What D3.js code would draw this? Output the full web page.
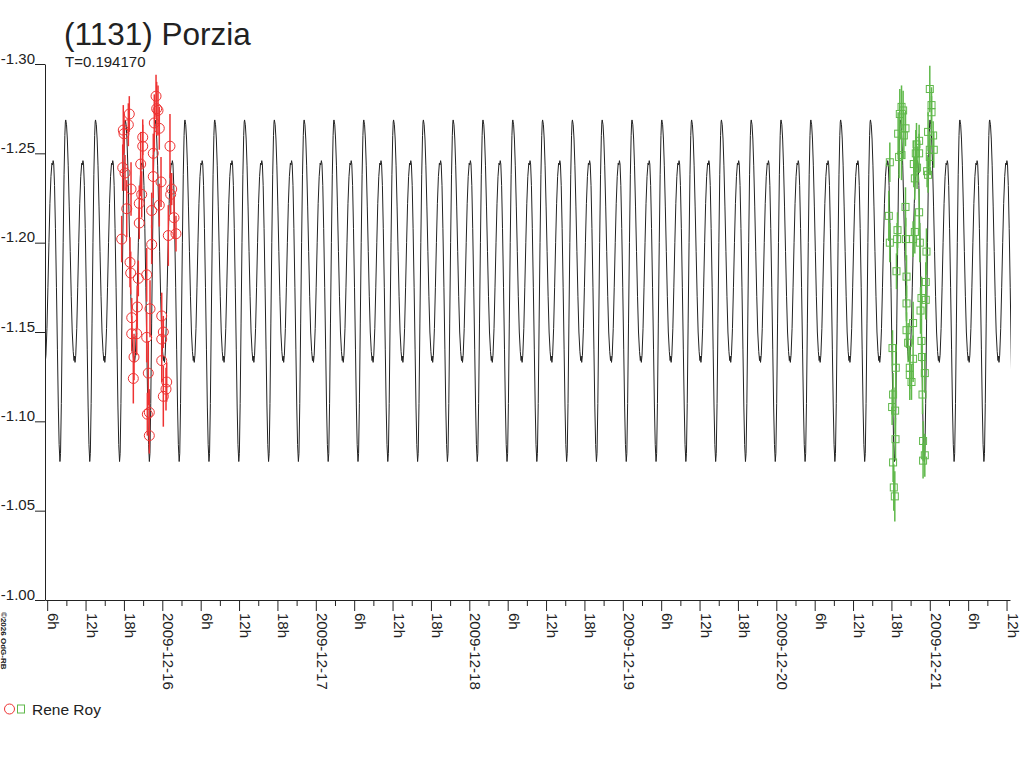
<!DOCTYPE html>
<html><head><meta charset="utf-8">
<script src="https://cdn.jsdelivr.net/npm/d3@7"></script>
<style>html,body{margin:0;padding:0;background:#fff;} svg{display:block;font-family:"Liberation Sans",Arial,sans-serif;}</style>
</head><body><svg id="c" width="1024" height="768"></svg>
<script>
// ---------------- data ----------------
const TITLE = "(1131) Porzia";
const PERIOD_LABEL = "T=0.194170";
const PERIOD_DAYS = 0.194170;
const EPOCH_HOURS = 8.90;          // time of the higher maximum, hours after 2009-12-15 00:00 UT
const X_START_H = 5.66, X_END_H = 156.54, CURVE_END_H = 156.70;
const Y_TICKS = [-1.30, -1.25, -1.20, -1.15, -1.10, -1.05, -1.00];
const OBSERVER = "Rene Roy";
const COPYRIGHT = "\u00A92026 OdG-RB";

// one period of the fitted lightcurve (phase 0 = higher maximum)
const PROFILE_PHASE = [0.000,0.027,0.054,0.084,0.118,0.151,0.185,0.218,0.252,0.279,0.296,0.312,0.336,
  0.370,0.403,0.437,0.470,0.504,0.537,0.558,0.578,0.598,0.625,0.655,0.689,0.722,0.752,0.779,0.806,0.826,
  0.853,0.883,0.914,0.944,0.971,0.988];
const PROFILE_MAG = [-1.2687,-1.266,-1.258,-1.243,-1.220,-1.195,-1.170,-1.150,-1.139,-1.134,-1.1365,-1.133,-1.137,
  -1.152,-1.175,-1.200,-1.222,-1.237,-1.2445,-1.2435,-1.2459,-1.244,-1.232,-1.208,-1.175,-1.140,-1.108,-1.087,-1.0775,-1.082,
  -1.110,-1.155,-1.200,-1.238,-1.260,-1.2675];

// observations, session 1 (hours after 2009-12-15 00:00 UT)
const RED_T = [23.02,23.12,18.84,17.90,18.69,20.94,22.75,25.20,20.94,22.59,17.81,18.17,20.62,22.59,23.80,25.47,19.11,25.31,
  20.78,20.40,23.53,18.44,22.34,25.83,20.40,26.14,24.94,17.65,22.34,18.95,19.06,21.56,20.25,20.09,22.08,19.22,23.91,19.22,
  20.00,21.56,23.91,24.16,19.58,23.91,21.81,19.47,24.69,24.58,24.16,21.97,21.66,21.97,23.33,18.01,23.53];
const RED_MAG = [-1.282,-1.275,-1.272,-1.263,-1.266,-1.259,-1.267,-1.254,-1.254,-1.250,-1.242,-1.239,-1.244,-1.237,-1.234,
  -1.230,-1.230,-1.227,-1.227,-1.222,-1.221,-1.219,-1.218,-1.214,-1.211,-1.205,-1.204,-1.202,-1.199,-1.189,-1.183,-1.182,
  -1.180,-1.164,-1.163,-1.158,-1.159,-1.149,-1.149,-1.147,-1.146,-1.150,-1.136,-1.134,-1.127,-1.124,-1.122,-1.118,-1.114,
  -1.105,-1.104,-1.092,-1.274,-1.261,-1.264];
const RED_ERR = [0.012,0.015,0.010,0.014,0.012,0.010,0.016,0.018,0.012,0.011,0.013,0.010,0.018,0.012,0.014,0.009,0.015,0.011,
  0.013,0.010,0.012,0.016,0.010,0.012,0.009,0.010,0.017,0.013,0.011,0.014,0.012,0.015,0.010,0.012,0.016,0.011,0.013,0.010,
  0.012,0.014,0.011,0.009,0.013,0.012,0.018,0.014,0.011,0.012,0.017,0.013,0.012,0.010,0.014,0.011,0.012];

// observations, session 2
const GREEN_T = [144.00,144.27,144.27,139.58,139.83,139.31,140.20,139.05,139.94,144.52,143.73,142.33,141.92,144.62,141.81,
  142.33,144.00,139.58,139.20,144.00,137.75,141.50,142.01,143.58,143.73,141.66,140.20,142.33,137.59,138.95,141.66,137.75,
  138.89,140.25,141.39,142.44,143.48,138.79,140.36,143.37,140.36,142.70,143.37,142.55,141.39,140.36,140.61,141.39,142.70,
  138.17,142.80,138.68,140.87,140.87,141.14,143.22,138.26,142.86,138.11,138.58,138.64,142.95,143.22,142.95,138.26,138.37,138.53];
const GREEN_MAG = [-1.286,-1.277,-1.273,-1.276,-1.274,-1.272,-1.264,-1.261,-1.260,-1.260,-1.262,-1.257,-1.255,-1.252,-1.250,
  -1.250,-1.252,-1.249,-1.248,-1.248,-1.245,-1.244,-1.242,-1.240,-1.238,-1.236,-1.220,-1.217,-1.215,-1.207,-1.206,-1.200,
  -1.202,-1.202,-1.202,-1.200,-1.195,-1.184,-1.181,-1.178,-1.166,-1.169,-1.168,-1.162,-1.155,-1.151,-1.144,-1.135,-1.145,
  -1.141,-1.136,-1.130,-1.130,-1.126,-1.122,-1.127,-1.115,-1.115,-1.108,-1.106,-1.090,-1.089,-1.081,-1.078,-1.077,-1.063,-1.058];
const GREEN_ERR = [0.013,0.010,0.009,0.012,0.011,0.014,0.010,0.012,0.013,0.008,0.011,0.009,0.012,0.010,0.013,0.011,0.009,
  0.014,0.012,0.010,0.011,0.013,0.012,0.009,0.010,0.012,0.011,0.013,0.014,0.010,0.012,0.011,0.009,0.012,0.010,0.011,0.013,
  0.010,0.012,0.011,0.010,0.012,0.011,0.013,0.012,0.010,0.011,0.013,0.012,0.010,0.011,0.013,0.012,0.014,0.010,0.011,0.012,
  0.011,0.010,0.013,0.012,0.011,0.012,0.010,0.011,0.013,0.014];

// ---------------- drawing ----------------
const BASE = Date.UTC(2009, 11, 15);
const hToDate = h => new Date(BASE + h * 3600e3);
const INK = "#222", RED = "#ee3333", GREEN = "#5fb84a";
const FONT = "Liberation Sans, Arial, sans-serif";

const svg = d3.select("#c");
const x = d3.scaleUtc().domain([hToDate(X_START_H), hToDate(X_END_H)]).range([45, 1010]);
const y = d3.scaleLinear().domain([Y_TICKS[0], Y_TICKS[Y_TICKS.length - 1]]).range([64, 600]);

// title
svg.append("text").attr("x", 64).attr("y", 45).attr("font-size", 31.5).attr("fill", INK).text(TITLE);
svg.append("text").attr("x", 65).attr("y", 67).attr("font-size", 15).attr("fill", INK).text(PERIOD_LABEL);

// clip for curve
svg.append("clipPath").attr("id", "clip").append("rect").attr("x", 45).attr("y", 0)
  .attr("width", x(hToDate(CURVE_END_H)) - 45).attr("height", 768);

// model curve built from one period profile repeated with period T
const P = PERIOD_DAYS * 24;
const curve = [];
const kStart = Math.floor((X_START_H - EPOCH_HOURS) / P) - 1;
const kEnd = Math.ceil((CURVE_END_H - EPOCH_HOURS) / P) + 1;
for (let k = kStart; k <= kEnd; k++) {
  PROFILE_PHASE.forEach((ph, i) => curve.push({ t: EPOCH_HOURS + (k + ph) * P, m: PROFILE_MAG[i] }));
}
const line = d3.line().x(d => x(hToDate(d.t))).y(d => y(d.m));
svg.append("path").datum(curve).attr("clip-path", "url(#clip)")
  .attr("d", line).attr("fill", "none").attr("stroke", INK).attr("stroke-width", 1);

// axes
const xTicks = d3.utcHour.every(3).range(hToDate(X_START_H), hToDate(X_END_H + 0.01));
const fmtDay = d3.utcFormat("%Y-%m-%d");
const xAxis = d3.axisBottom(x).tickValues(xTicks).tickSize(11).tickSizeOuter(0)
  .tickFormat(d => d.getUTCHours() % 6 !== 0 ? "" : (d.getUTCHours() === 0 ? fmtDay(d) : d.getUTCHours() + "h"));
const gx = svg.append("g").attr("transform", "translate(0,600)").attr("color", INK).call(xAxis);
gx.selectAll(".tick line").attr("y2", d => d.getUTCHours() % 6 === 0 ? 11 : 6);
gx.selectAll(".tick text").attr("x", 0).attr("y", 0).attr("dy", 0)
  .attr("transform", "translate(0.5,13) rotate(90)").attr("text-anchor", "start")
  .attr("font-size", 15).attr("font-family", FONT).attr("fill", INK);

const fmtY = d => d3.format(".2f")(d).replace("\u2212", "-");
const yAxis = d3.axisLeft(y).tickValues(Y_TICKS).tickSize(10).tickSizeOuter(0).tickFormat(fmtY);
const gy = svg.append("g").attr("transform", "translate(45,0)").attr("color", INK).call(yAxis);
gy.selectAll(".tick text").attr("x", -10).attr("y", -1).attr("dy", 0).attr("text-anchor", "end")
  .attr("font-size", 15).attr("font-family", FONT).attr("fill", INK);

// observations
function drawSet(T, M, E, color, shape) {
  const data = T.map((t, i) => ({ t, m: M[i], e: E[i] }));
  const g = svg.append("g");
  g.selectAll("line.err").data(data).join("line")
    .attr("x1", d => x(hToDate(d.t))).attr("x2", d => x(hToDate(d.t)))
    .attr("y1", d => y(d.m - d.e)).attr("y2", d => y(d.m + d.e))
    .attr("stroke", color).attr("stroke-width", 1.5);
  if (shape === "circle") {
    g.selectAll("circle").data(data).join("circle")
      .attr("cx", d => x(hToDate(d.t))).attr("cy", d => y(d.m)).attr("r", 5)
      .attr("fill", "none").attr("stroke", color).attr("stroke-width", 1);
  } else {
    g.selectAll("rect").data(data).join("rect")
      .attr("x", d => x(hToDate(d.t)) - 3.5).attr("y", d => y(d.m) - 3.5).attr("width", 7).attr("height", 7)
      .attr("fill", "none").attr("stroke", color).attr("stroke-width", 1);
  }
}
drawSet(RED_T, RED_MAG, RED_ERR, RED, "circle");
drawSet(GREEN_T, GREEN_MAG, GREEN_ERR, GREEN, "square");

// legend
svg.append("circle").attr("cx", 9.5).attr("cy", 709).attr("r", 5).attr("fill", "none").attr("stroke", RED);
svg.append("rect").attr("x", 17.5).attr("y", 705).attr("width", 7).attr("height", 8).attr("fill", "none").attr("stroke", GREEN);
svg.append("text").attr("x", 32).attr("y", 715).attr("font-size", 15.5).attr("fill", INK).text(OBSERVER);

// copyright
svg.append("text").attr("transform", "translate(1,612) rotate(90)").attr("font-size", 8).attr("font-weight", "bold")
  .attr("fill", INK).text(COPYRIGHT);
</script></body></html>
